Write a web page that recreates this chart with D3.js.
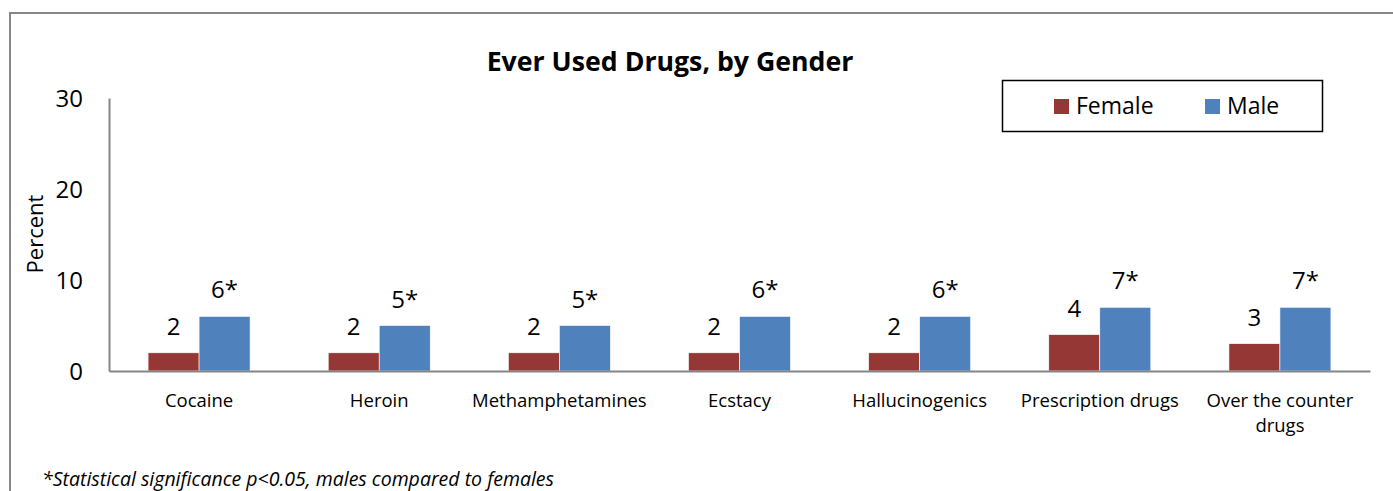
<!DOCTYPE html>
<html><head><meta charset="utf-8">
<script src="https://cdn.jsdelivr.net/npm/d3@7"></script>
<style>body{margin:0;background:#fff}svg{display:block}text{font-family:"Open Sans","Liberation Sans",sans-serif}</style>
</head><body>
<svg id="c" width="1393" height="491"></svg>
<script>
const categories = ["Cocaine","Heroin","Methamphetamines","Ecstacy","Hallucinogenics","Prescription drugs","Over the counter drugs"];
const femaleValues = [2,2,2,2,2,4,3];
const maleValues = [6,5,5,6,6,7,7];
const femaleLabels = ["2","2","2","2","2","4","3"];
const maleLabels = ["6*","5*","5*","6*","6*","7*","7*"];
const yTicks = [0,10,20,30];
const seriesNames = ["Female","Male"];
const colors = ["#953735","#4F81BD"];

const svg = d3.select("#c");
svg.append("rect").attr("x",10).attr("y",13).attr("width",1400).attr("height",500)
  .attr("fill","#fff").attr("stroke","#868686").attr("stroke-width",2);

const x0 = d3.scaleBand().domain(categories).range([109,1370]).paddingInner(0).paddingOuter(0);
const y = d3.scaleLinear().domain([0,30]).range([371,98]);
const innerPad = (x0.bandwidth()-102)/2;
const x1 = d3.scaleBand().domain(seriesNames).range([innerPad, x0.bandwidth()-innerPad]);

// title
svg.append("text").attr("x",670).attr("y",71).attr("text-anchor","middle")
  .attr("font-size",26.7).attr("font-weight","bold").text("Ever Used Drugs, by Gender");

// y axis
const yAxis = d3.axisLeft(y).tickValues(yTicks).tickSize(0).tickPadding(26);
const gy = svg.append("g").attr("transform","translate(109,0)").call(yAxis);
gy.select(".domain").attr("stroke","#868686").attr("stroke-width",2);
gy.selectAll("text").attr("font-size",24).attr("fill","#000").attr("dy","0.35em");

svg.append("text").attr("transform","translate(43,234) rotate(-90)").attr("text-anchor","middle")
  .attr("font-size",22).text("Percent");

// bars
const data = categories.map((c,i)=>({c, vals:[femaleValues[i],maleValues[i]], labs:[femaleLabels[i],maleLabels[i]]}));
const g = svg.append("g");
data.forEach(d=>{
  d.vals.forEach((v,j)=>{
    const bx = x0(d.c)+x1(seriesNames[j]);
    g.append("rect").attr("x",bx).attr("y",y(v)).attr("width",x1.bandwidth()).attr("height",y(0)-y(v))
      .attr("fill",colors[j]).attr("stroke","#fff").attr("stroke-width",0.6);
    g.append("text").attr("x",bx+x1.bandwidth()/2).attr("y",y(v)-18).attr("text-anchor","middle")
      .attr("font-size",24).text(d.labs[j]);
  });
});

// x axis
const xAxis = d3.axisBottom(x0).tickSize(0).tickPadding(0);
const gx = svg.append("g").attr("transform","translate(0,371)").call(xAxis);
gx.select(".domain").attr("stroke","#868686").attr("stroke-width",2);
gx.selectAll(".tick text").attr("font-size",18.5).attr("fill","#000").attr("dy",0).each(function(d){
  const t = d3.select(this);
  t.text(null);
  let lines = [d];
  if (d==="Over the counter drugs") lines = ["Over the counter","drugs"];
  lines.forEach((l,i)=>t.append("tspan").attr("x",0).attr("y",36+i*25).text(l));
});

// legend
svg.append("rect").attr("x",1002.5).attr("y",80.5).attr("width",320).attr("height",51)
  .attr("fill","#fff").attr("stroke","#000").attr("stroke-width",1.5);
const legX = [1054,1205];
seriesNames.forEach((n,i)=>{
  svg.append("rect").attr("x",legX[i]).attr("y",99).attr("width",15).attr("height",15).attr("fill",colors[i]);
  svg.append("text").attr("x",legX[i]+22).attr("y",114).attr("font-size",23).text(n);
});

// footnote
svg.append("text").attr("x",42).attr("y",486).attr("font-size",19.5).attr("font-style","italic")
  .text("*Statistical significance p<0.05, males compared to females");
</script>
</body></html>
